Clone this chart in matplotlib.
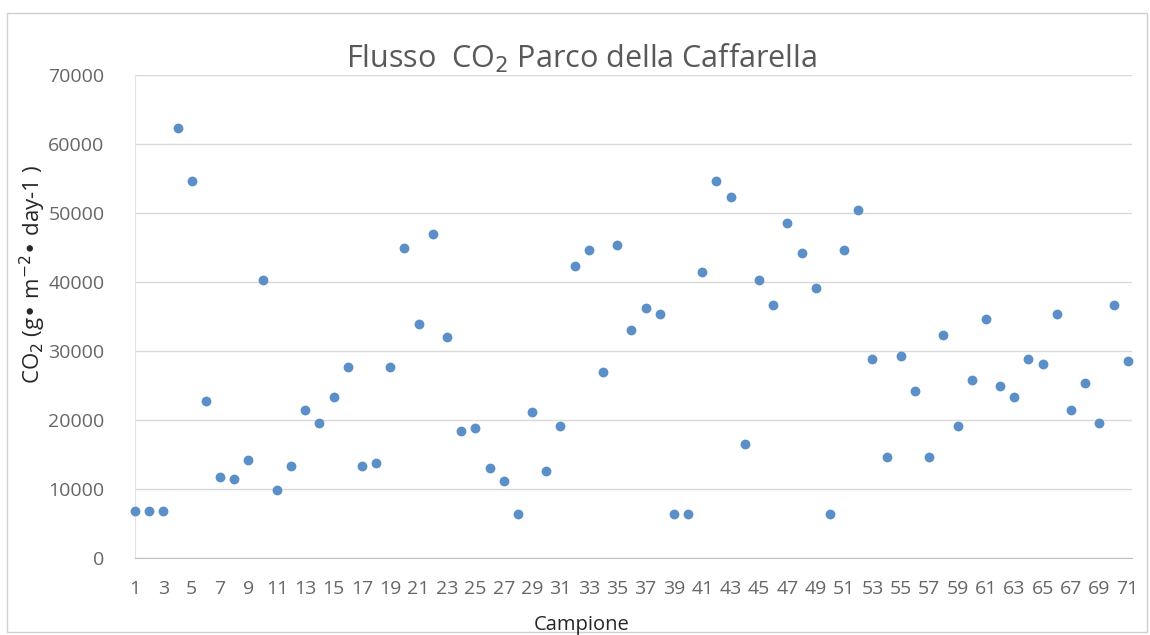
import matplotlib
matplotlib.use("Agg")
import matplotlib.pyplot as plt
from matplotlib.patches import Rectangle

plt.rcParams['font.family'] = ['Open Sans', 'DejaVu Sans']

# campione 1..71, CO2 flux values
campione = list(range(1, 72))
co2 = [6800, 6800, 6800, 62300, 54700, 22700, 11800, 11400, 14200, 40300,
       9900, 13400, 21500, 19600, 23400, 27700, 13400, 13800, 27700, 45000,
       33900, 46900, 32000, 18400, 18800, 13000, 11100, 6400, 21100, 12600,
       19200, 42300, 44600, 26900, 45400, 33100, 36200, 35400, 6400, 6400,
       41500, 54700, 52300, 16500, 40300, 36600, 48500, 44200, 39200, 6400,
       44600, 50400, 28900, 14600, 29300, 24200, 14600, 32300, 19200, 25800,
       34600, 25000, 23400, 28900, 28100, 35400, 21500, 25400, 19600, 36600,
       28500]
odd = [c for c in campione if c % 2 == 1]
xtick_labels = [str(c) for c in odd]
yticks = list(range(0, 70001, 10000))

fig = plt.figure(figsize=(11.5, 6.35), dpi=100)
ax = fig.add_axes([135/1150, 1 - 558/635, (1132 - 135)/1150, (558 - 75)/635])

ax.scatter(campione, co2, s=50, color='#5B8FC7', zorder=3, clip_on=False, linewidths=0)

ax.set_ylim(0, 70000)
ax.set_xlim(1, 71.3)
ax.set_yticks(yticks)
ax.set_yticklabels([str(v) for v in yticks], color='#666666', fontsize=14)
ax.set_xticks(odd)
ax.set_xticklabels(xtick_labels, color='#666666', fontsize=14)
ax.tick_params(length=0)
ax.tick_params(axis='x', pad=16)
ax.tick_params(axis='y', pad=22)

ax.grid(axis='y', color='#D9D9D9', linewidth=1)
ax.set_axisbelow(True)
for s in ['top', 'right']:
    ax.spines[s].set_visible(False)
ax.spines['bottom'].set_color('#BFBFBF')
ax.spines['left'].set_color('#E3E3E3')

fig.text(581/1150, 1 - 58/635, 'Flusso  CO$_2$ Parco della Caffarella',
         ha='center', va='center', fontsize=22, color='#595959')
fig.text(582/1150, 1 - 625/635, 'Campione', ha='center', va='center',
         fontsize=14.5, color='#262626')
fig.text(33/1150, 1 - 274/635, 'CO$_2$ (g• m$^{-2}$• day-1 )', rotation=90,
         ha='center', va='center', fontsize=16, color='#262626')

fig.add_artist(Rectangle((7/1150, 3/635), 1140/1150, 1 - 16/635, transform=fig.transFigure,
                         fill=False, edgecolor='#D0D0D0', linewidth=1))

fig.savefig('out.png', dpi=100)
